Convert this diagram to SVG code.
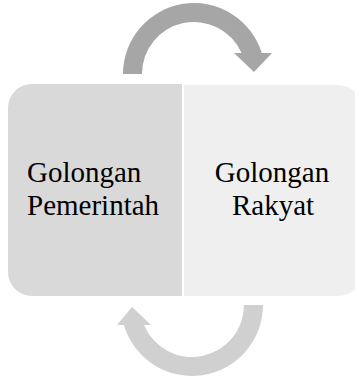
<svg xmlns="http://www.w3.org/2000/svg" width="355" height="379" viewBox="0 0 355 379">
<style>
text{font-family:'Liberation Serif','Times New Roman',Times,serif;font-size:29px;fill:#000}
.c{text-anchor:middle}
.l{text-anchor:start}
</style>
<rect width="355" height="379" fill="#fff"/>
<g id="connectors">
<path id="arrow-top" fill="#a6a6a6" d="M 123,74 A 71 71 0 0 1 261.8,53 L 272,53 L 254,72 L 234,53 L 241.6,53 A 52 52 0 0 0 142,74 Z"/>
<path id="arrow-bottom" fill="#d0d0d0" d="M 263,305 A 71 71 0 0 1 123.9,325 L 117,325 L 132,307 L 151,325 L 144,325 A 52 52 0 0 0 244,305 Z"/>
</g>
<g id="node-pemerintah">
<path fill="#d9d9d9" d="M 32,84 L 182,84 L 182,296 L 32,296 A 24 24 0 0 1 8,272 L 8,108 A 24 24 0 0 1 32,84 Z"/>
<text class="l" x="27" y="182">Golongan</text>
<text class="l" x="27" y="215">Pemerintah</text>
</g>
<g id="node-rakyat">
<path fill="#efefef" d="M 184,85 L 338,85 A 24 24 0 0 1 362,109 L 362,272 A 24 24 0 0 1 338,296 L 184,296 Z"/>
<text class="c" x="272" y="182">Golongan</text>
<text class="c" x="273" y="215">Rakyat</text>
</g>
</svg>
